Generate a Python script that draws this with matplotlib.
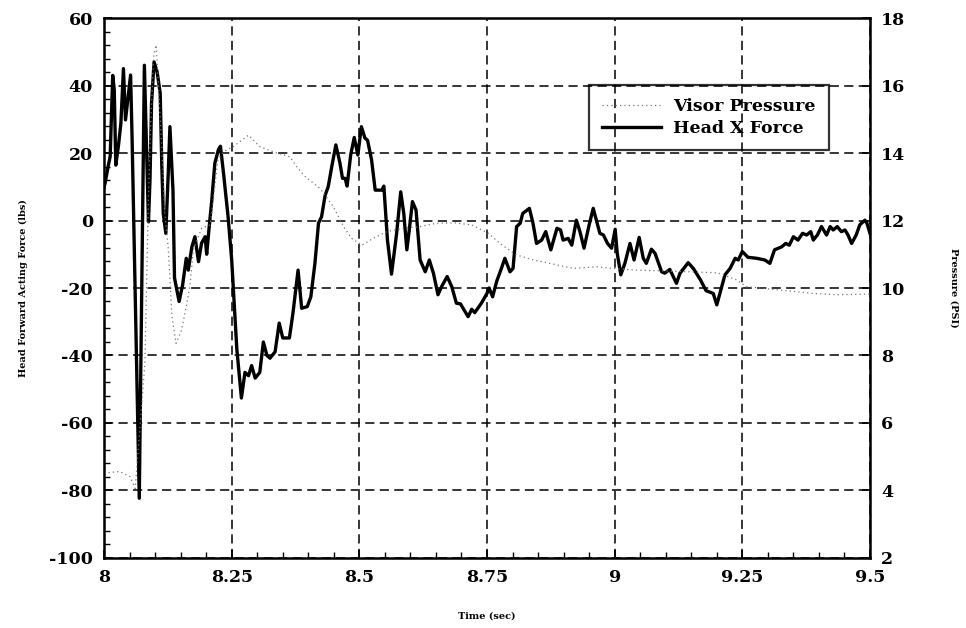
import matplotlib
matplotlib.use("Agg")
import matplotlib.pyplot as plt
from matplotlib.ticker import MultipleLocator

# Head X force (lbs), left axis
force_t = [8.000, 8.002, 8.008, 8.012, 8.017, 8.020, 8.023, 8.028, 8.033, 8.038,
           8.042, 8.046, 8.052, 8.055, 8.069, 8.079, 8.084, 8.087, 8.090, 8.093,
           8.098, 8.104, 8.110, 8.113, 8.116, 8.121, 8.126, 8.129, 8.135, 8.138,
           8.147, 8.154, 8.161, 8.165, 8.172, 8.178, 8.185, 8.191, 8.198, 8.201,
           8.206, 8.211, 8.217, 8.224, 8.228, 8.234, 8.243, 8.250, 8.260, 8.269,
           8.276, 8.283, 8.289, 8.296, 8.305, 8.312, 8.319, 8.325, 8.335, 8.343,
           8.350, 8.363, 8.370, 8.380, 8.387, 8.398, 8.405, 8.413, 8.420, 8.426,
           8.433, 8.439, 8.446, 8.454, 8.462, 8.467, 8.472, 8.476, 8.483, 8.490,
           8.497, 8.504, 8.511, 8.516, 8.524, 8.531, 8.544, 8.548, 8.555, 8.563,
           8.573, 8.581, 8.587, 8.593, 8.597, 8.604, 8.611, 8.619, 8.629, 8.637,
           8.645, 8.654, 8.661, 8.672, 8.681, 8.690, 8.698, 8.713, 8.720, 8.726,
           8.739, 8.750, 8.754, 8.761, 8.769, 8.777, 8.785, 8.795, 8.801, 8.808,
           8.815, 8.820, 8.833, 8.840, 8.847, 8.857, 8.865, 8.875, 8.887, 8.894,
           8.899, 8.909, 8.916, 8.925, 8.932, 8.940, 8.950, 8.958, 8.965, 8.971,
           8.978, 8.986, 8.994, 9.001, 9.005, 9.012, 9.020, 9.030, 9.038, 9.048,
           9.056, 9.062, 9.072, 9.079, 9.092, 9.098, 9.108, 9.121, 9.128, 9.144,
           9.154, 9.168, 9.179, 9.193, 9.200, 9.207, 9.216, 9.226, 9.236, 9.242,
           9.250, 9.261, 9.278, 9.294, 9.304, 9.313, 9.327, 9.335, 9.342, 9.350,
           9.359, 9.368, 9.376, 9.384, 9.389, 9.397, 9.405, 9.415, 9.422, 9.428,
           9.436, 9.444, 9.451, 9.457, 9.464, 9.473, 9.480, 9.490, 9.494, 9.500]
force_lbs = [10, 11, 16, 19, 43, 38.7, 16.4, 21.9, 28.8, 45,
             29.8, 35.2, 43.1, 23.9, -82.3, 46, 17, -0.4, 12, 34.7,
             47, 44, 37.7, 17, 2.1, -3.8, 15, 27.8, 9, -17,
             -24, -19, -11.2, -14.7, -7.8, -4.8, -12.2, -6.7, -4.8, -10,
             -1.8, 6, 17, 21, 22, 14, 1, -11.7, -38, -52.6,
             -45, -46, -43, -46.7, -45, -36, -40, -40.8, -38.9, -30.4,
             -34.8, -34.8, -27.4, -14.7, -26, -25.5, -22.6, -12.7, -0.8, 1.1,
             7.5, 10, 16, 22.4, 17, 12.5, 12.5, 10.2, 19.4, 24.6,
             19.4, 27.8, 24.4, 23.8, 17.9, 9, 9, 10.2, -5.8, -15.9,
             -3.8, 8.5, 2.1, -8.7, -3.8, 5.6, 3.1, -11.7, -15.2, -11.7,
             -15.6, -22, -19.6, -16.6, -19.6, -24.5, -24.7, -28.5, -26.3, -27.3,
             -24.5, -21.6, -20, -22.6, -18, -14.7, -11.2, -15.2, -14.2, -1.8,
             -0.8, 2.1, 3.6, -0.8, -6.8, -5.8, -3.3, -8.7, -2.3, -2.8,
             -5.8, -5.3, -7.3, 0.1, -3.3, -8.2, -1.3, 3.6, -0.4, -3.8,
             -4.3, -6.8, -8.2, -2.6, -9.7, -16.1, -12.7, -6.8, -11.7, -5,
             -11.2, -12.7, -8.5, -9.7, -15.2, -15.6, -14.5, -18.6, -15.6, -12.5,
             -14.2, -17.6, -20.8, -21.6, -25, -21.1, -16.1, -14.2, -11.2, -11.7,
             -9.2, -10.9, -11.2, -11.7, -12.7, -8.7, -7.8, -6.8, -7.3, -4.8,
             -5.8, -3.8, -4.3, -3.3, -5.8, -4.3, -1.8, -4.3, -1.8, -2.8,
             -1.8, -3.3, -2.8, -4.3, -6.8, -4.3, -1.3, 0.1, -0.8, -3.8]

# Visor pressure (PSI), right axis
visor_t = [8.000, 8.031, 8.051, 8.061, 8.080, 8.087, 8.091, 8.097, 8.102, 8.106,
           8.113, 8.119, 8.126, 8.133, 8.141, 8.152, 8.161, 8.168, 8.175, 8.191,
           8.208, 8.223, 8.234, 8.253, 8.283, 8.305, 8.338, 8.364, 8.377, 8.394,
           8.423, 8.449, 8.469, 8.485, 8.505, 8.527, 8.554, 8.586, 8.619, 8.651,
           8.687, 8.720, 8.753, 8.775, 8.808, 8.841, 8.873, 8.919, 8.965, 8.997,
           9.043, 9.089, 9.147, 9.202, 9.239, 9.258, 9.323, 9.389, 9.435, 9.500]
visor_psi = [4.52, 4.56, 4.41, 4.06, 7.77, 12.70, 14.68, 16.85, 17.20, 16.16,
             14.19, 12.22, 11.13, 9.15, 8.36, 8.76, 9.45, 10.04, 11.13, 11.77,
             11.87, 13.80, 14.04, 14.19, 14.53, 14.19, 14.00, 13.89, 13.60, 13.30,
             12.95, 12.41, 11.82, 11.47, 11.27, 11.47, 11.67, 11.77, 11.82, 11.92,
             11.93, 11.87, 11.62, 11.32, 10.98, 10.83, 10.73, 10.58, 10.63, 10.58,
             10.53, 10.51, 10.48, 10.45, 10.24, 10.04, 9.94, 9.84, 9.80, 9.82]

x_ticks = [8, 8.25, 8.5, 8.75, 9, 9.25, 9.5]
x_tick_labels = ["8", "8.25", "8.5", "8.75", "9", "9.25", "9.5"]

plt.rcParams["font.family"] = ["DejaVu Serif"]
plt.rcParams["font.weight"] = "bold"
plt.rcParams["axes.unicode_minus"] = False

fig, ax1 = plt.subplots(figsize=(9.66, 6.28), dpi=100)
fig.subplots_adjust(left=0.1077, right=0.9006, top=0.9713, bottom=0.1115)

ax1.set_xlim(8, 9.5)
ax1.set_ylim(-100, 60)
ax1.set_xticks(x_ticks)
ax1.set_xticklabels(x_tick_labels)
ax1.yaxis.set_major_locator(MultipleLocator(20))
ax1.yaxis.set_minor_locator(MultipleLocator(4))
ax1.xaxis.set_minor_locator(MultipleLocator(0.05))
ax1.grid(True, which="major", color="black", linestyle=(0, (6, 3.5)), linewidth=1.1)
ax1.tick_params(which="major", direction="in", length=6, width=1.2, labelsize=12.5, pad=8)
ax1.tick_params(which="minor", direction="in", length=4, width=1.0)
ax1.tick_params(axis="y", right=False)
for s in ax1.spines.values():
    s.set_linewidth(1.8)

ax2 = ax1.twinx()
ax2.set_ylim(2, 18)
ax2.yaxis.set_major_locator(MultipleLocator(2))
ax2.tick_params(direction="in", length=6, width=1.2, labelsize=12.5, pad=8)

l_visor, = ax2.plot(visor_t, visor_psi, color="#777777", linewidth=0.9,
                    linestyle=(0, (1, 2.5)), label="Visor Pressure")
l_head, = ax1.plot(force_t, force_lbs, color="black", linewidth=2.4,
                   label="Head X Force")

for lab in ax1.get_xticklabels() + ax1.get_yticklabels() + ax2.get_yticklabels():
    lab.set_fontweight("bold")

ax1.set_ylabel("Head Forward Acting Force (lbs)", fontsize=7, fontweight="bold", labelpad=15)
ax1.set_xlabel("Time (sec)", fontsize=7, fontweight="bold", labelpad=18)
ax2.set_ylabel("Pressure (PSI)", fontsize=7, fontweight="bold", rotation=270, labelpad=38)

leg = ax2.legend(handles=[l_visor, l_head], loc="upper left",
                 bbox_to_anchor=(0.633, 0.876), borderaxespad=0,
                 frameon=True, fancybox=False,
                 prop={"family": "DejaVu Serif", "weight": "bold", "size": 12.5},
                 handlelength=3.4, handletextpad=0.7, borderpad=0.75,
                 labelspacing=0.3)
leg.get_frame().set_facecolor("none")
leg.get_frame().set_edgecolor("black")
leg.get_frame().set_linewidth(1.6)

fig.savefig("out.png", dpi=100)
